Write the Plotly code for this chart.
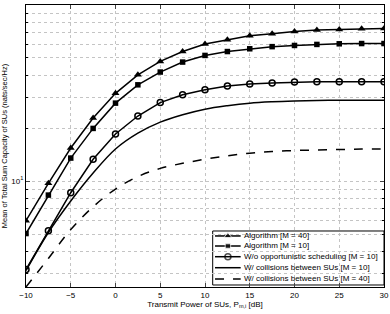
import plotly.graph_objects as go

power_db = [-10, -7.5, -5, -2.5, 0, 2.5, 5, 7.5, 10, 12.5, 15, 17.5, 20, 22.5, 25, 27.5, 30]

alg_m40 = [5.95, 9.7, 15.4, 22.8, 31.5, 40.1, 47.8, 54.4, 60.0, 63.5, 66.8, 68.7, 70.8, 72.1, 72.6, 73.2, 73.6]
alg_m10 = [5.03, 8.32, 13.5, 19.9, 27.7, 35.2, 41.6, 47.4, 51.7, 54.4, 56.4, 58.0, 58.9, 59.7, 60.2, 60.4, 60.4]
no_opp_m10 = [3.14, 5.21, 8.58, 13.3, 18.5, 23.4, 27.9, 30.9, 33.0, 34.7, 35.6, 36.1, 36.5, 36.6, 36.7, 36.7, 36.7]
coll_m10 = [3.1, 5.1, 7.7, 11.1, 15.2, 18.7, 21.6, 23.8, 25.6, 26.8, 27.7, 28.2, 28.5, 28.7, 28.8, 28.8, 28.8]
coll_m40 = [2.5, 3.63, 5.3, 7.14, 9.0, 10.6, 11.8, 12.6, 13.3, 13.9, 14.4, 14.7, 14.9, 15.0, 15.1, 15.2, 15.2]

names = [
    "Algorithm [M = 40]",
    "Algorithm [M = 10]",
    "W/o opportunistic scheduling [M = 10]",
    "W/ collisions between SUs [M = 10]",
    "W/ collisions between SUs [M = 40]",
]

x_ticks = [-10, -5, 0, 5, 10, 15, 20, 25, 30]
y_major = [10, 100]
y_major_text = ["10<sup>1</sup>", "10<sup>2</sup>"]
y_minor = [3, 4, 5, 6, 7, 8, 9, 20, 30, 40, 50, 60, 70, 80, 90]

FONT = "Liberation Sans, Arial, sans-serif"
GRID = "#c4c4c4"

styles = [
    dict(mode="lines+markers", line=dict(color="black", width=1.5),
         marker=dict(symbol="triangle-up", size=7, color="black")),
    dict(mode="lines+markers", line=dict(color="black", width=1.5),
         marker=dict(symbol="square", size=5.5, color="black")),
    dict(mode="lines+markers", line=dict(color="black", width=1.5),
         marker=dict(symbol="circle-open", size=6, color="black", line=dict(width=1.5))),
    dict(mode="lines", line=dict(color="black", width=1.5, shape="spline")),
    dict(mode="lines", line=dict(color="black", width=1.5, dash="dash", shape="spline")),
]
series = [alg_m40, alg_m10, no_opp_m10, coll_m10, coll_m40]

fig = go.Figure()
for name, ys, st in zip(names, series, styles):
    fig.add_trace(go.Scatter(x=power_db, y=ys, name=name, showlegend=False, **st))

# Compact legend drawn on an overlay axis (0..1 in both directions)
leg_rows = [0.181, 0.1454, 0.1074, 0.0684, 0.0284]
lx0, lxm, lx1, ltx = 0.528, 0.564, 0.5997, 0.6025
for name, st, ry in zip(names, styles, leg_rows):
    s = dict(st)
    line = dict(s["line"])
    line.pop("shape", None)
    s["line"] = line
    if "marker" in s:
        m = dict(s["marker"])
        m["size"] = [0, m["size"], 0]
        s["marker"] = m
    fig.add_trace(go.Scatter(x=[lx0, lxm, lx1], y=[ry, ry, ry], xaxis="x2", yaxis="y2",
                             showlegend=False, hoverinfo="skip", **s))
    fig.add_annotation(x=ltx, y=ry, xref="paper", yref="paper", text=name,
                       showarrow=False, xanchor="left", yanchor="middle",
                       font=dict(family=FONT, size=8, color="black"))

fig.add_shape(type="rect", xref="paper", yref="paper", x0=0.5215, x1=1.0, y0=0.0071, y1=0.1986,
              line=dict(color="black", width=1), fillcolor="white", layer="between")

fig.update_layout(
    width=390, height=314,
    margin=dict(l=26, r=6, t=5, b=27),
    paper_bgcolor="white", plot_bgcolor="white",
    font=dict(family=FONT, size=8, color="black"),
    showlegend=False,
    xaxis=dict(range=[-10, 30], tickvals=x_ticks, ticks="inside", ticklen=4,
               showline=True, linecolor="black", linewidth=1, mirror="ticks",
               showgrid=True, gridcolor=GRID, griddash="dot", gridwidth=1,
               zeroline=False, automargin=False,
               title=dict(text="Transmit Power of SUs, P<sub>m,i</sub> [dB]", standoff=2,
                          font=dict(size=8))),
    yaxis=dict(type="log", range=[0.3979, 2.0],
               tickvals=y_major, ticktext=y_major_text,
               ticks="inside", ticklen=4,
               minor=dict(tickvals=y_minor, ticks="inside", ticklen=2, tickcolor="black",
                          showgrid=True, gridcolor=GRID, griddash="dot", gridwidth=1),
               showline=True, linecolor="black", linewidth=1, mirror="ticks",
               showgrid=True, gridcolor=GRID, griddash="dot", gridwidth=1,
               zeroline=False, automargin=False,
               title=dict(text="Mean of Total Sum Capacity of SUs (nats/sec/Hz)", standoff=4,
                          font=dict(size=7.5))),
    xaxis2=dict(overlaying="x", range=[0, 1], visible=False, domain=[0, 1]),
    yaxis2=dict(overlaying="y", range=[0, 1], visible=False),
)

fig.write_html("out.html", config={"displayModeBar": False},
               post_script="document.body.style.margin='0';")
